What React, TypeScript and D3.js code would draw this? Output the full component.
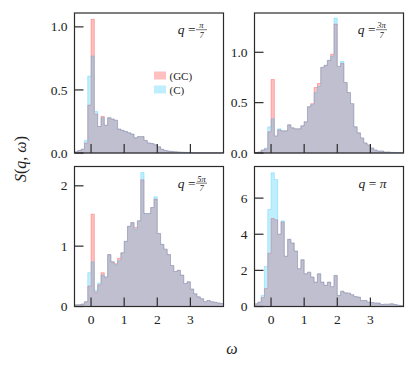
import React from "react";
import * as d3 from "d3";

const W = 416;
const H = 369;

// bin edges of the histograms (omega)
const binEdges = d3.range(46).map((i) => +(-0.5 + 0.1 * i).toFixed(2));

// q = pi/7
const gcA = [0.01, 0.02, 0.03, 0.08, 0.38, 1.06, 0.31, 0.21, 0.29, 0.22, 0.28, 0.27, 0.26, 0.19, 0.18, 0.17, 0.16, 0.15, 0.12, 0.13, 0.13, 0.1, 0.08, 0.075, 0.065, 0.05, 0.03, 0.02, 0.015, 0.013, 0.01, 0.008, 0.006, 0.005, 0.004, 0.003, 0.002, 0.002, 0.002, 0.002, 0.002, 0.002, 0.002, 0.002, 0.002];
const cA = [0.01, 0.02, 0.03, 0.1, 0.61, 0.77, 0.33, 0.21, 0.28, 0.22, 0.28, 0.27, 0.26, 0.19, 0.18, 0.17, 0.16, 0.15, 0.12, 0.13, 0.13, 0.1, 0.08, 0.075, 0.065, 0.05, 0.03, 0.02, 0.015, 0.013, 0.01, 0.008, 0.006, 0.005, 0.004, 0.003, 0.002, 0.002, 0.002, 0.002, 0.002, 0.002, 0.002, 0.002, 0.002];

// q = 3pi/7
const gcB = [0.005, 0.01, 0.03, 0.04, 0.21, 0.73, 0.17, 0.23, 0.22, 0.22, 0.28, 0.25, 0.24, 0.24, 0.27, 0.31, 0.46, 0.49, 0.65, 0.69, 0.85, 0.87, 0.92, 0.98, 1.28, 0.86, 0.89, 0.7, 0.6, 0.49, 0.26, 0.2, 0.15, 0.1, 0.08, 0.05, 0.03, 0.02, 0.02, 0.01, 0.01, 0.006, 0.005, 0.004, 0.003];
const cB = [0.005, 0.01, 0.03, 0.05, 0.26, 0.34, 0.17, 0.24, 0.22, 0.22, 0.28, 0.25, 0.24, 0.24, 0.27, 0.31, 0.46, 0.48, 0.6, 0.66, 0.85, 0.87, 0.92, 0.96, 1.34, 0.86, 0.91, 0.7, 0.6, 0.49, 0.26, 0.2, 0.15, 0.1, 0.08, 0.05, 0.03, 0.02, 0.02, 0.01, 0.01, 0.006, 0.005, 0.004, 0.003];

// q = 5pi/7
const gcC = [0.03, 0.03, 0.04, 0.08, 0.34, 1.53, 0.24, 0.36, 0.56, 0.49, 0.86, 0.74, 0.71, 0.8, 0.89, 1.08, 1.33, 1.39, 1.31, 1.42, 2.1, 1.54, 1.54, 1.64, 1.78, 1.21, 1.03, 0.95, 0.86, 0.68, 0.58, 0.6, 0.52, 0.38, 0.41, 0.29, 0.21, 0.16, 0.13, 0.08, 0.1, 0.08, 0.07, 0.06, 0.05];
const cC = [0.03, 0.03, 0.04, 0.08, 0.56, 0.74, 0.27, 0.39, 0.52, 0.49, 0.86, 0.74, 0.69, 0.76, 0.89, 1.08, 1.33, 1.39, 1.28, 1.42, 2.22, 1.54, 1.54, 1.64, 1.82, 1.21, 1.03, 0.95, 0.86, 0.68, 0.58, 0.6, 0.52, 0.38, 0.41, 0.29, 0.21, 0.16, 0.13, 0.08, 0.1, 0.08, 0.07, 0.06, 0.05];

// q = pi
const gcD = [0.15, 0.24, 0.5, 1.0, 2.95, 4.87, 4.8, 4.0, 4.68, 2.78, 3.72, 3.52, 3.07, 2.09, 2.59, 1.81, 1.9, 1.63, 1.35, 1.81, 1.35, 1.17, 1.35, 1.1, 1.72, 0.61, 0.85, 0.76, 0.74, 0.65, 0.55, 0.52, 0.33, 0.33, 0.24, 0.22, 0.2, 0.19, 0.11, 0.13, 0.13, 0.15, 0.11, 0.07, 0.05];
const cD = [0.15, 0.24, 0.61, 2.22, 5.37, 7.4, 7.03, 4.0, 4.74, 2.78, 3.72, 3.52, 3.07, 2.09, 2.59, 1.81, 1.9, 1.63, 1.35, 1.81, 1.35, 1.17, 1.35, 1.1, 1.72, 0.61, 0.85, 0.76, 0.74, 0.65, 0.55, 0.52, 0.33, 0.33, 0.24, 0.22, 0.2, 0.19, 0.11, 0.13, 0.13, 0.15, 0.11, 0.07, 0.05];

const xTicks = [0, 1, 2, 3];
const yTicksA = [0, 0.5, 1.0];
const yTicksB = [0, 0.5, 1.0];
const yTicksC = [0, 1, 2];
const yTicksD = [0, 2, 4, 6];
const yMaxes = [1.11, 1.39, 2.32, 7.75];
const qNum = ["π", "3π", "5π", ""];
const legendLabels = ["(GC)", "(C)"];

const RED = "#ff0000";
const BLUE = "#00bfff";
const ALPHA = 0.25;
const AX = "#2b2b2b";
const FONT = "Liberation Serif";

const panelW = 149;
const panelH = 140;
const colX = [74.5, 254.5];
const rowY = [13, 166.5];

type PanelProps = {
  x0: number;
  y0: number;
  gc: number[];
  c: number[];
  yTicks: number[];
  yMax: number;
  yFmt: (v: number) => string;
  showXLabels: boolean;
  num: string;
  legend?: boolean;
};

function Panel({ x0, y0, gc, c, yTicks, yMax, yFmt, showXLabels, num, legend }: PanelProps) {
  const xs = d3.scaleLinear().domain([-0.5, 4.0]).range([x0, x0 + panelW]);
  const ys = d3.scaleLinear().domain([0, yMax]).range([y0 + panelH, y0]);
  const mk = (vals: number[]) => {
    const pts = vals.map((v, i) => ({ x: binEdges[i], y: v }));
    pts.push({ x: binEdges[vals.length], y: vals[vals.length - 1] });
    return d3
      .area<{ x: number; y: number }>()
      .x((d) => xs(d.x))
      .y0(ys(0))
      .y1((d) => ys(d.y))
      .curve(d3.curveStepAfter)(pts) as string;
  };
  const right = x0 + panelW;
  const annY = y0 + 21;
  const annRight = right - 17;
  return (
    <g>
      <path d={mk(gc) + "Z"} fill={RED} fillOpacity={ALPHA} stroke={RED} strokeOpacity={ALPHA} strokeWidth={1} />
      <path d={mk(c) + "Z"} fill={BLUE} fillOpacity={ALPHA} stroke={BLUE} strokeOpacity={ALPHA} strokeWidth={1} />
      <rect x={x0} y={y0} width={panelW} height={panelH} fill="none" stroke={AX} strokeWidth={1.2} />
      {xTicks.map((t) => (
        <g key={"x" + t}>
          <line x1={xs(t)} x2={xs(t)} y1={y0 + panelH} y2={y0 + panelH - 9} stroke={AX} strokeWidth={1.2} />
          {showXLabels && (
            <text x={xs(t)} y={y0 + panelH + 17.5} textAnchor="middle" fontSize={13.5} fontFamily={FONT} fill="#222">
              {t}
            </text>
          )}
        </g>
      ))}
      {yTicks.map((t) => (
        <g key={"y" + t}>
          <line x1={x0} x2={x0 + 9} y1={ys(t)} y2={ys(t)} stroke={AX} strokeWidth={1.2} />
          <text x={x0 - 7} y={ys(t) + 4.6} textAnchor="end" fontSize={13.5} fontFamily={FONT} fill="#222">
            {yFmt(t)}
          </text>
        </g>
      ))}
      {num ? (
        <g fontFamily={FONT} fill="#222">
          <text x={annRight - 11} y={annY} textAnchor="end" fontSize={13.5} fontStyle="italic">
            <tspan>q</tspan>
            <tspan fontStyle="normal"> = </tspan>
          </text>
          <text x={annRight - 5} y={annY - 6} textAnchor="middle" fontSize={8.5} fontStyle="italic">
            {num}
          </text>
          <line x1={annRight - 10.5} x2={annRight + 0.5} y1={annY - 4.3} y2={annY - 4.3} stroke="#222" strokeWidth={0.6} />
          <text x={annRight - 5} y={annY + 3.8} textAnchor="middle" fontSize={8.5} fontStyle="italic">
            7
          </text>
        </g>
      ) : (
        <text x={annRight} y={annY} textAnchor="end" fontSize={13.5} fontFamily={FONT} fill="#222" fontStyle="italic">
          <tspan>q</tspan>
          <tspan fontStyle="normal"> = </tspan>
          <tspan>π</tspan>
        </text>
      )}
      {legend && (
        <g>
          {legendLabels.map((l, i) => (
            <g key={l}>
              <rect x={154} y={71.5 + i * 14} width={12} height={8} fill={i === 0 ? RED : BLUE} fillOpacity={ALPHA} />
              <text x={169.5} y={79.5 + i * 14} fontSize={11} fontFamily={FONT} fill="#222">
                {l}
              </text>
            </g>
          ))}
        </g>
      )}
    </g>
  );
}

export default function App() {
  const f1 = (v: number) => v.toFixed(1);
  const f0 = (v: number) => String(v);
  return (
    <svg width={W} height={H} style={{ display: "block", position: "absolute", left: 0, top: 0, background: "#fff" }}>
      <rect width={W} height={H} fill="#fff" />
      <Panel x0={colX[0]} y0={rowY[0]} gc={gcA} c={cA} yTicks={yTicksA} yMax={yMaxes[0]} yFmt={f1} showXLabels={false} num={qNum[0]} legend />
      <Panel x0={colX[1]} y0={rowY[0]} gc={gcB} c={cB} yTicks={yTicksB} yMax={yMaxes[1]} yFmt={f1} showXLabels={false} num={qNum[1]} />
      <Panel x0={colX[0]} y0={rowY[1]} gc={gcC} c={cC} yTicks={yTicksC} yMax={yMaxes[2]} yFmt={f0} showXLabels={true} num={qNum[2]} />
      <Panel x0={colX[1]} y0={rowY[1]} gc={gcD} c={cD} yTicks={yTicksD} yMax={yMaxes[3]} yFmt={f0} showXLabels={true} num={qNum[3]} />
      <text transform="translate(26,159) rotate(-90)" textAnchor="middle" fontSize={16} fontFamily={FONT} fill="#222">
        <tspan fontStyle="italic">S</tspan>
        <tspan>(</tspan>
        <tspan fontStyle="italic">q</tspan>
        <tspan>, </tspan>
        <tspan fontStyle="italic">ω</tspan>
        <tspan>)</tspan>
      </text>
      <text x={232} y={354} textAnchor="middle" fontSize={16} fontFamily={FONT} fontStyle="italic" fill="#222">
        ω
      </text>
    </svg>
  );
}
